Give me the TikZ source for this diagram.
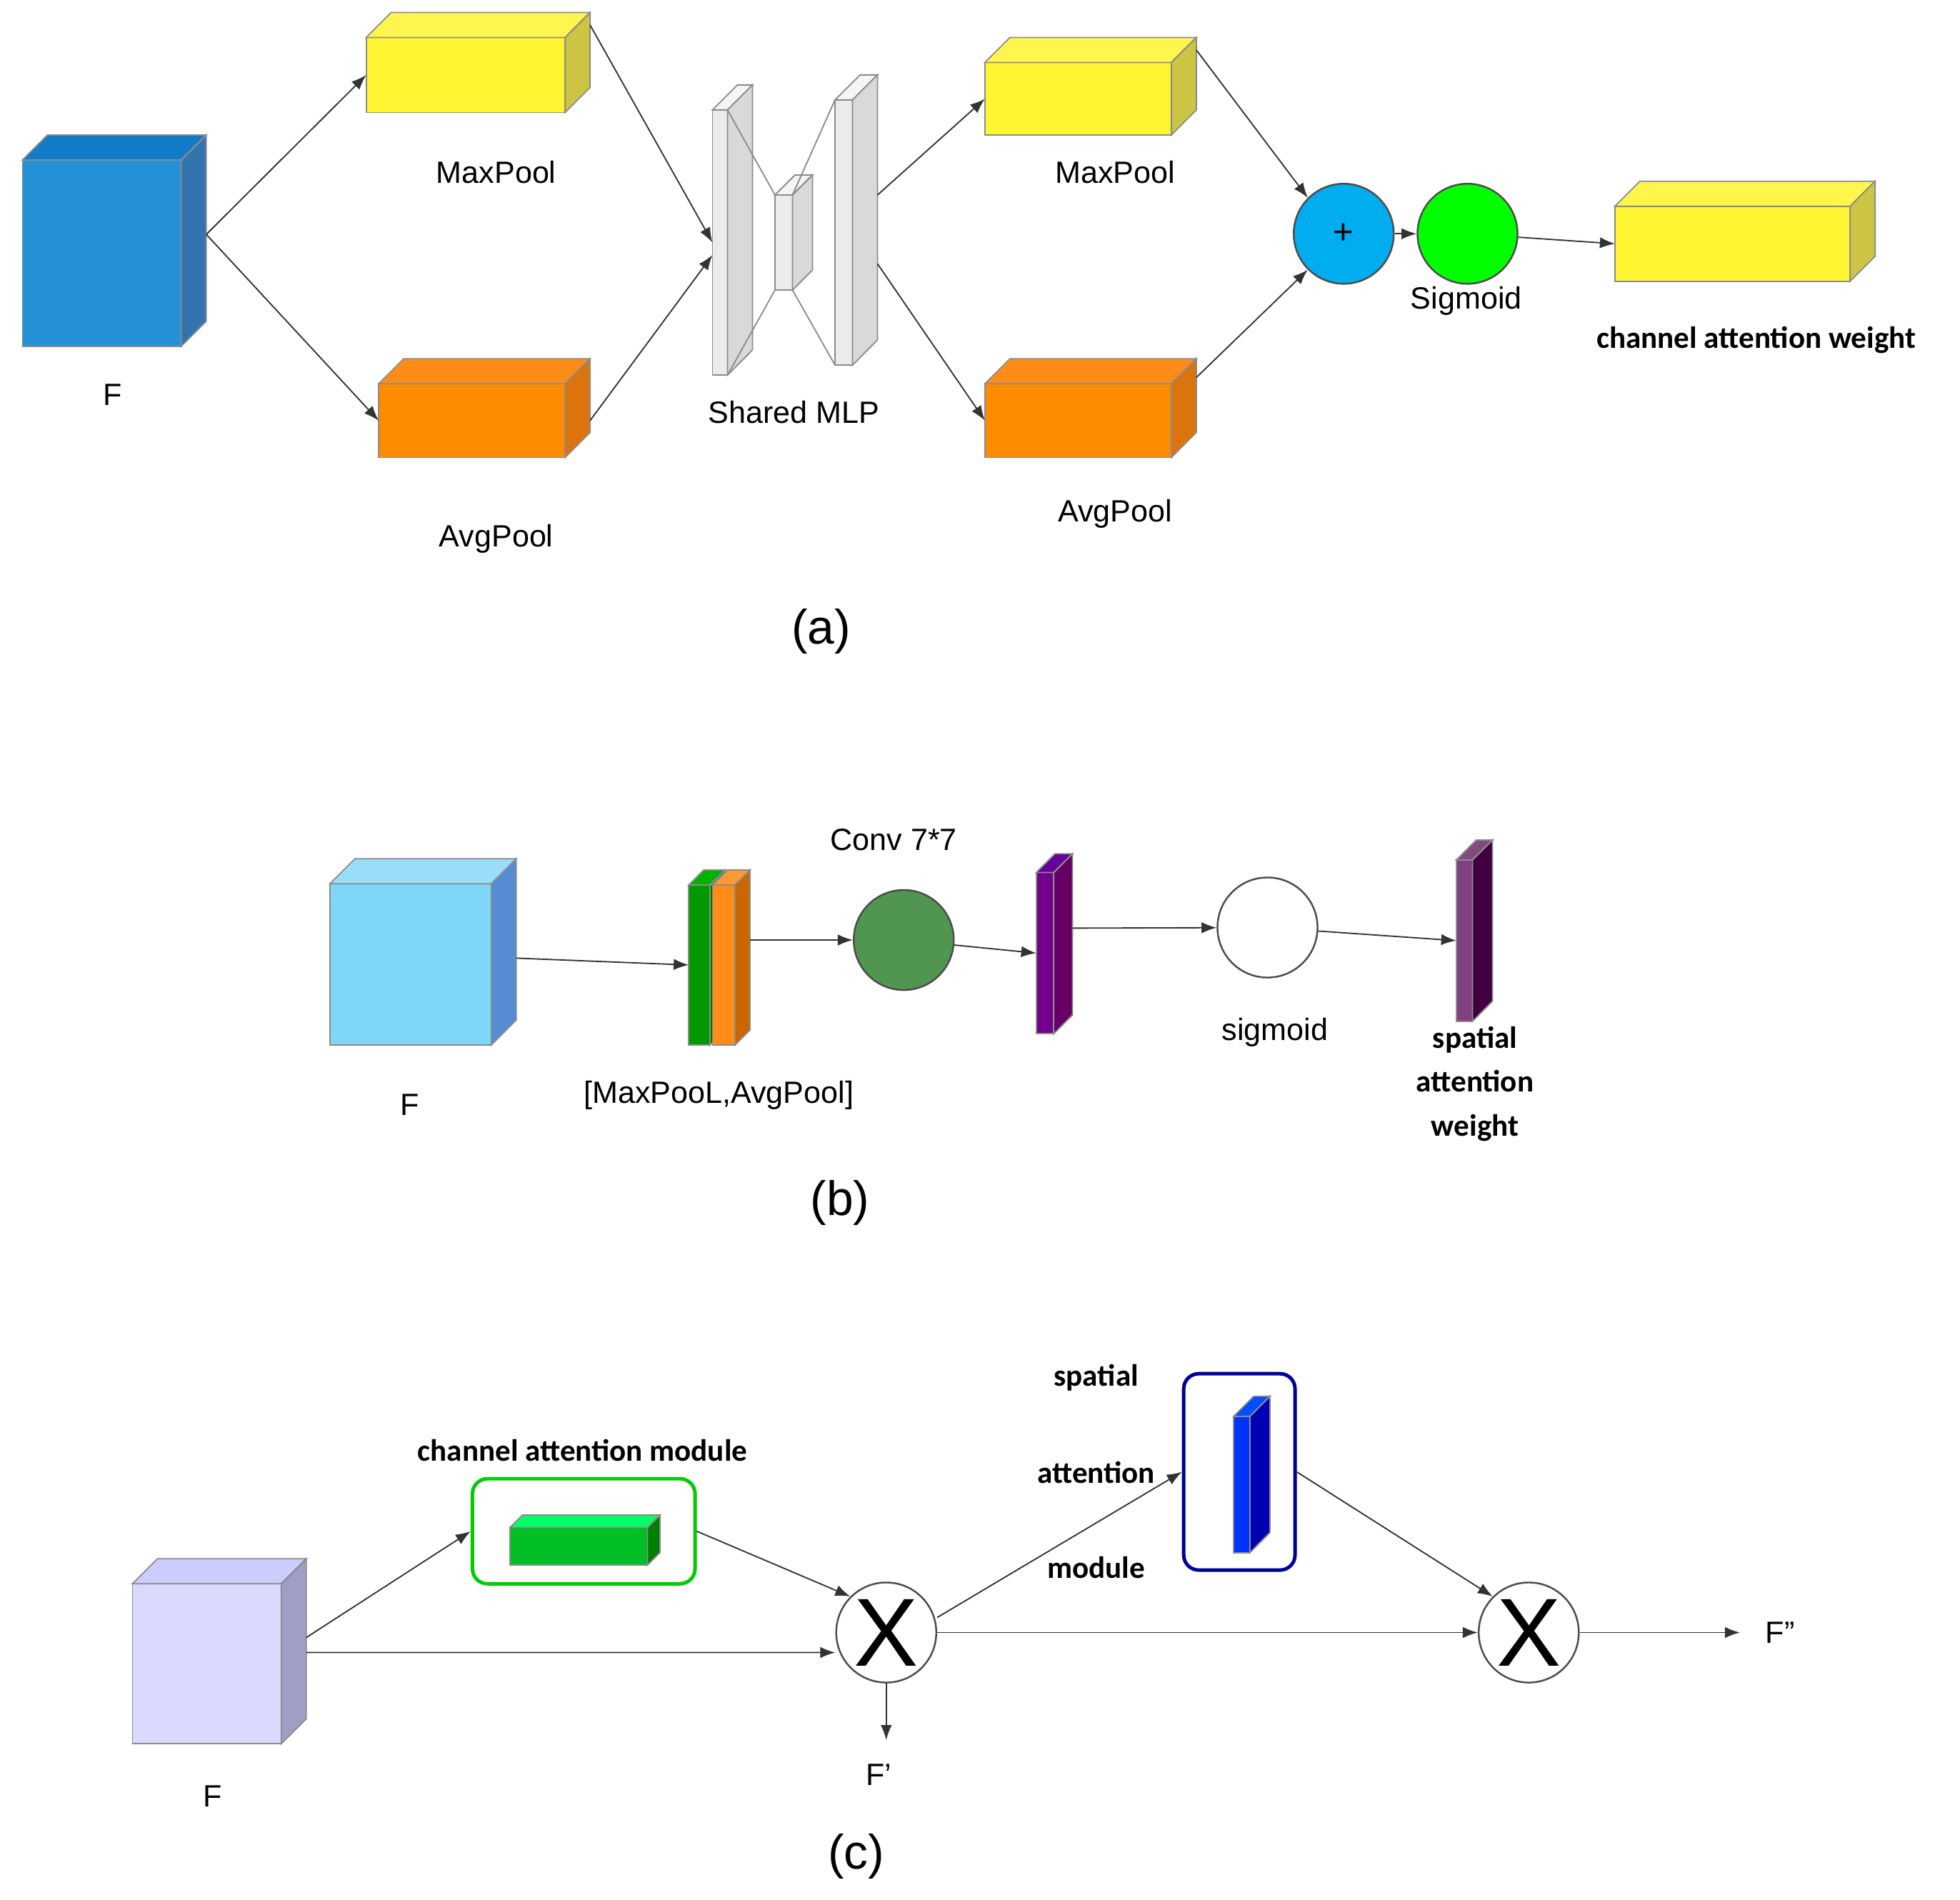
\documentclass[tikz,border=0pt]{standalone}
\usepackage{fontspec}
\setmainfont{Liberation Sans}
\newfontfamily\boldfont{Carlito}
\usetikzlibrary{arrows.meta,positioning}
% front face node, then top and side faces
\newcommand{\cube}[9]{%
  \node[face, fill=#7, minimum width=#4*0.1mm, minimum height=#5*0.1mm] (#1) at (#2,#3) {};
  \draw[facedraw, fill=#8] (#1.north west) -- ++(#6,-#6) -- ++(#4,0) -- (#1.north east) -- cycle;
  \draw[facedraw, fill=#9] (#1.north east) -- ++(#6,-#6) -- ++(0,#5) -- (#1.south east) -- cycle;}
\begin{document}
\begin{tikzpicture}[x=0.01cm, y=-0.01cm, >=Latex,
    face/.style={draw=black!45, line width=0.3pt, inner sep=0pt, outer sep=0pt},
    facedraw/.style={draw=black!45, line width=0.3pt},
    lbl/.style={font=\fontsize{7}{8}\selectfont, align=center},
    blbl/.style={font=\boldfont\bfseries\fontsize{7}{10}\selectfont, align=center},
    captxt/.style={font=\fontsize{11}{12}\selectfont},
    circ/.style={circle, draw=black!70, line width=0.4pt, minimum size=0.8cm, inner sep=0pt},
    arr/.style={->, line width=0.3pt, black!80, >={Latex[length=1.2mm,width=0.9mm]}},
    frame/.style={draw, rounded corners=0.12cm, line width=0.8pt, minimum width=#1, inner sep=0pt}]
  \useasboundingbox (0,0) rectangle (1568,1520);
  % (a)
  \cube{Fa}{81.5}{202.5}{127}{149}{20}{cyan!70!blue!90}{cyan!60!blue}{cyan!60!blue!80!black}
  \cube{mxa}{372.5}{60}{159}{60}{20}{yellow!80}{yellow!70}{yellow!75!black!90}
  \cube{ava}{377.5}{336.5}{149}{59}{20}{orange!90!yellow}{orange!90}{orange!85!black!95}
  \cube{mlpl}{576}{194}{12}{212}{20}{black!8}{black!4}{black!15}
  \cube{mlpm}{627}{194}{14}{76}{16}{black!8}{black!4}{black!15}
  \cube{mlpr}{675}{186}{14}{212}{20}{black!8}{black!4}{black!15}
  \draw[facedraw] (mlpl.north east) -- (mlpm.north west) (mlpl.south east) -- (mlpm.south west)
    (mlpm.north east) -- (mlpr.north west) (mlpm.south east) -- (mlpr.south west);
  \cube{mxb}{862.5}{79}{149}{58}{20}{yellow!80}{yellow!70}{yellow!75!black!90}
  \cube{avb}{862.5}{336.5}{149}{59}{20}{orange!90!yellow}{orange!90}{orange!85!black!95}
  \cube{cw}{1386}{195}{188}{60}{20}{yellow!80}{yellow!70}{yellow!75!black!90}
  \node[circ, fill=cyan] (plus) at (1075,187) {\fontsize{8}{8}\selectfont +};
  \node[circ, fill=green] (sig) at (1174,187) {};
  \node[lbl] at (90,316) {F};
  \node[lbl] at (397,138) {MaxPool};
  \node[lbl] at (397,431) {AvgPool};
  \node[lbl] at (635,330) {Shared MLP};
  \node[lbl] at (892,138) {MaxPool};
  \node[lbl] at (892,411) {AvgPool};
  \node[lbl] at (1173,241) {Sigmoid};
  \node[blbl] at (1405,272) {channel attention weight};
  \node[captxt] at (657,505) {(a)};
  \draw[arr] (Fa.east) ++(20,-15) coordinate (fr) -- (mxa.west);
  \draw[arr] (fr) -- (ava.west);
  \draw[arr] (mxa.north east) ++(20,-10) -- (mlpl.west);
  \draw[arr] (ava.east) ++(20,0) -- ([yshift=-0.1cm]mlpl.west);
  \draw[arr] (mlpr.east) ++(20,-30) coordinate (mr) -- (mxb.west);
  \draw[arr] (mlpr.east) ++(20,25) -- (avb.west);
  \draw[arr] (mxb.north east) ++(20,-10) -- (plus.north west);
  \draw[arr] (avb.north east) ++(20,-5) -- (plus.south west);
  \draw[arr] (plus) -- (sig);
  \draw[arr] (sig) -- (cw.west);
  % (b)
  \cube{Fb}{328.5}{771.5}{129}{129}{20}{cyan!50!white}{cyan!40!white}{cyan!50!blue!70}
  \cube{gs}{559.5}{772}{17}{128}{12}{green!60!black}{green!70!black}{green!45!black}
  \cube{os}{579}{772}{18}{128}{12}{orange!90}{orange!80}{orange!80!black}
  \node[circ, fill=green!30!gray!90!black] (conv) at (723,752) {};
  \cube{ps}{836}{762.5}{14}{129}{15}{violet!90!blue}{violet!80!blue}{violet!80!black}
  \node[circ, fill=white] (sg) at (1014,742) {};
  \cube{ws}{1171.5}{752.5}{13}{129}{16}{violet!50!gray}{violet!40!gray}{violet!50!black}
  \node[lbl] at (328,884) {F};
  \node[lbl] at (575,876) {[MaxPooL,AvgPool]};
  \node[lbl] at (715,672) {Conv 7*7};
  \node[lbl] at (1020,826) {sigmoid};
  \node[blbl] at (1180,867) {spatial\\attention\\weight};
  \node[captxt] at (672,962) {(b)};
  \draw[arr] (Fb.east) ++(20,-5) -- (gs.west);
  \draw[arr] (os.east) ++(12,-20) -- (conv);
  \draw[arr] (conv) -- (ps.west);
  \draw[arr] (ps.east) ++(15,-20) -- (sg);
  \draw[arr] (sg) -- (ws.west);
  % (c)
  \cube{Fc}{165.5}{1331}{119}{128}{20}{blue!15!white}{blue!20!white}{blue!25!gray!60}
  \node[frame=1.78cm, draw=green!80!black, minimum height=0.84cm] (cam) at (467,1225) {};
  \cube{gc}{463}{1237}{110}{30}{10}{green!70!black!85!cyan}{green!60!cyan}{green!50!black}
  \node[frame=0.89cm, draw=blue!60!black, minimum height=1.57cm] (sam) at (991.5,1177.5) {};
  \cube{bc}{993.5}{1187.5}{13}{109}{16}{blue!80!cyan}{blue!70!cyan}{blue!70!black}
  \node[circ, fill=white] (x1) at (709,1306) {\fontsize{22}{22}\selectfont X};
  \node[circ, fill=white] (x2) at (1223,1306) {\fontsize{22}{22}\selectfont X};
  \coordinate (fp) at (709,1392);
  \coordinate (fpp) at (1392,1306);
  \node[lbl] at (170,1437) {F};
  \node[blbl] at (466,1160) {channel attention module};
  \node[blbl] at (877,1102) {spatial};
  \node[blbl] at (877,1178) {attention};
  \node[blbl] at (877,1254) {module};
  \node[lbl] at (703,1420) {F'};
  \node[lbl, anchor=west] at (1400,1306) {F''};
  \node[captxt] at (685,1485) {(c)};
  \draw[arr] (Fc.east) ++(20,-21) -- (cam.west);
  \draw[arr] (Fc.east) ++(20,-9) -- ([yshift=-0.16cm]x1.west);
  \draw[arr] (cam.east) -- (x1.north west);
  \draw[arr] (x1) -- (fp);
  \draw[arr] (x1.east) ++(0,-12) -- (sam.west);
  \draw[arr] (x1) -- (x2);
  \draw[arr] (sam.east) -- (x2.north west);
  \draw[arr] (x2) -- (fpp);
\end{tikzpicture}
\end{document}
